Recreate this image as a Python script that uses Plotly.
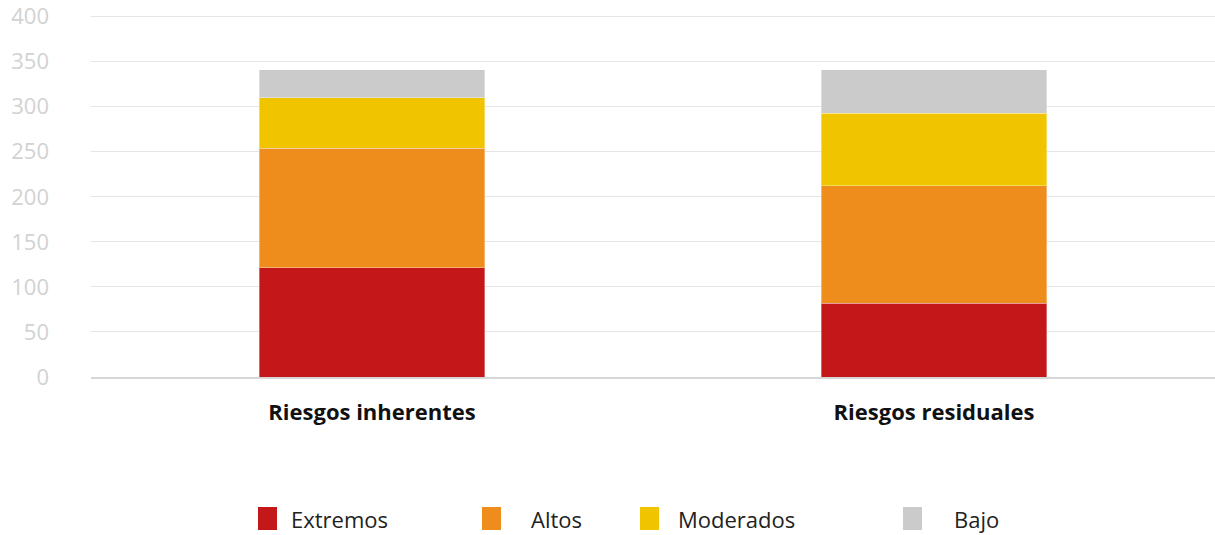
import plotly.graph_objects as go

# Risk counts by level
categories = ["Riesgos inherentes", "Riesgos residuales"]
levels = ["Extremos", "Altos", "Moderados", "Bajo"]
extremos = [121, 82]
altos = [133, 130]
moderados = [56, 81]
bajo = [31, 48]
y_ticks = [0, 50, 100, 150, 200, 250, 300, 350, 400]

colors = ["#C4171A", "#EF8D1C", "#F0C500", "#CBCBCB"]
series = [extremos, altos, moderados, bajo]

W, H = 1215, 535
L, R, T, B = 91, 0, 13, 158
plot_w = W - L - R
plot_h = H - T - B

fig = go.Figure()
for name, vals, col in zip(levels, series, colors):
    fig.add_trace(go.Bar(
        name=name, x=categories, y=vals,
        marker=dict(color=col, line=dict(color="rgba(255,255,255,0.35)", width=1)),
        showlegend=False,
    ))

# Legend built from swatches + labels (pixel positions converted to paper)
def px_x(px):
    return (px - L) / plot_w

def px_y(py):
    return (H - B - py) / plot_h

legend_items = [
    ("Extremos", 258, 289),
    ("Altos", 482, 529),
    ("Moderados", 640, 676),
    ("Bajo", 903, 952),
]
shapes = []
annotations = []
for (label, sx, tx), col in zip(legend_items, colors):
    shapes.append(dict(type="rect", xref="paper", yref="paper",
                       x0=px_x(sx), x1=px_x(sx + 19),
                       y0=px_y(530), y1=px_y(507),
                       fillcolor=col, line=dict(width=0)))
    annotations.append(dict(text=label, xref="paper", yref="paper",
                            x=px_x(tx), y=px_y(519), xanchor="left", yanchor="middle",
                            showarrow=False,
                            font=dict(family="Open Sans", size=22, color="#222222")))

fig.update_layout(
    width=W, height=H,
    barmode="stack", bargap=0.598,
    margin=dict(l=L, r=R, t=T, b=B, autoexpand=False),
    paper_bgcolor="white", plot_bgcolor="white",
    shapes=shapes, annotations=annotations,
    xaxis=dict(
        showgrid=False, showline=True, linecolor="#D6D6D6", linewidth=2,
        tickfont=dict(family="Open Sans", size=22, color="#111111", weight="bold"),
        ticklabelstandoff=15, automargin=False,
    ),
    yaxis=dict(
        range=[0, 404], tickvals=y_ticks,
        showgrid=True, gridcolor="#E6E6E6", gridwidth=1,
        zeroline=False,
        tickfont=dict(family="Open Sans", size=22, color="#D2D2D2"),
        ticklabelstandoff=41, ticklabeloverflow="allow", automargin=False,
    ),
)

fig.write_html("out.html")
